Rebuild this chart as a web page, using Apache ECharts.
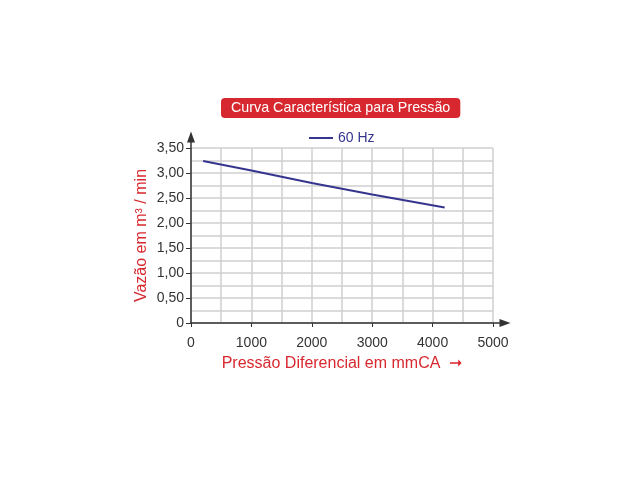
<!DOCTYPE html>
<html>
<head>
<meta charset="utf-8">
<script src="https://cdn.jsdelivr.net/npm/echarts@6/dist/echarts.min.js"></script>
<style>html,body{margin:0;padding:0;background:#fff;}#c{width:640px;height:480px;}</style>
</head>
<body>
<div id="c"></div>
<script>
var titleText = 'Curva Característica para Pressão';
var seriesName = '60 Hz';
var pressure = [200, 1000, 2000, 3000, 4200];
var flow = [3.24, 3.05, 2.80, 2.57, 2.31];
var xTicks = [0, 1000, 2000, 3000, 4000, 5000];
var yTicks = [0, 0.5, 1.0, 1.5, 2.0, 2.5, 3.0, 3.5];
var xName = 'Pressão Diferencial em mmCA  ➞';
var yName = 'Vazão em m³ / min';

var red = '#d8282f';
var navy = '#35358f';
var axisColor = '#333';
var gridColor = '#cfcfcf';
var font = 'Liberation Sans, Arial, sans-serif';

var chart = echarts.init(document.getElementById('c'));
chart.setOption({
  animation: false,
  backgroundColor: '#fff',
  title: {
    text: titleText,
    left: 221, top: 98,
    padding: [3, 10, 3, 10],
    backgroundColor: red,
    borderRadius: 4,
    textStyle: {color: '#fff', fontSize: 14.3, fontWeight: 'normal', fontFamily: font}
  },
  legend: {
    data: [{name: seriesName, icon: 'rect'}],
    left: 304, top: 126,
    itemWidth: 24, itemHeight: 2,
    itemGap: 6,
    textStyle: {color: navy, fontSize: 14, fontFamily: font}
  },
  grid: [
    {left: 191, right: 147, top: 148, bottom: 157},
    {left: 191, right: 135, top: 137, bottom: 157}
  ],
  xAxis: [
    {
      type: 'value', gridIndex: 0, min: 0, max: 5000, interval: 1000,
      name: xName, nameLocation: 'middle', nameGap: 33,
      nameTextStyle: {color: red, fontSize: 16, fontFamily: font},
      axisLine: {show: false},
      axisTick: {show: true, length: 4, lineStyle: {color: axisColor}},
      axisLabel: {color: axisColor, fontSize: 14, margin: 13, fontFamily: font,
        formatter: function (v) { return String(v); }},
      splitLine: {show: true, lineStyle: {color: gridColor, width: 1.5}},
      minorTick: {show: false, splitNumber: 2},
      minorSplitLine: {show: true, lineStyle: {color: gridColor, width: 1.5}}
    },
    {
      type: 'value', gridIndex: 1, min: 0, max: 1,
      axisLine: {show: true, lineStyle: {color: axisColor, width: 1.5}, symbol: ['none', 'triangle'], symbolSize: [8, 11]},
      axisTick: {show: false}, axisLabel: {show: false}, splitLine: {show: false}
    }
  ],
  yAxis: [
    {
      type: 'value', gridIndex: 0, min: 0, max: 3.5, interval: 0.5,
      name: yName, nameLocation: 'middle', nameGap: 41, nameRotate: 90,
      nameTextStyle: {color: red, fontSize: 16, fontFamily: font},
      axisLine: {show: false},
      axisTick: {show: true, length: 5, lineStyle: {color: axisColor}},
      axisLabel: {color: axisColor, fontSize: 14, margin: 7, fontFamily: font,
        formatter: function (v) { return v === 0 ? '0' : v.toFixed(2).replace('.', ','); }},
      splitLine: {show: true, lineStyle: {color: gridColor, width: 1.5}},
      minorTick: {show: false, splitNumber: 2},
      minorSplitLine: {show: true, lineStyle: {color: gridColor, width: 1.5}}
    },
    {
      type: 'value', gridIndex: 1, min: 0, max: 1,
      axisLine: {show: true, lineStyle: {color: axisColor, width: 1.5}, symbol: ['none', 'triangle'], symbolSize: [8, 11]},
      axisTick: {show: false}, axisLabel: {show: false}, splitLine: {show: false}
    }
  ],
  series: [{
    name: seriesName,
    type: 'line',
    xAxisIndex: 0, yAxisIndex: 0,
    data: pressure.map(function (p, i) { return [p, flow[i]]; }),
    symbol: 'none',
    smooth: false,
    lineStyle: {color: navy, width: 2},
    itemStyle: {color: navy}
  }]
});
</script>
</body>
</html>
